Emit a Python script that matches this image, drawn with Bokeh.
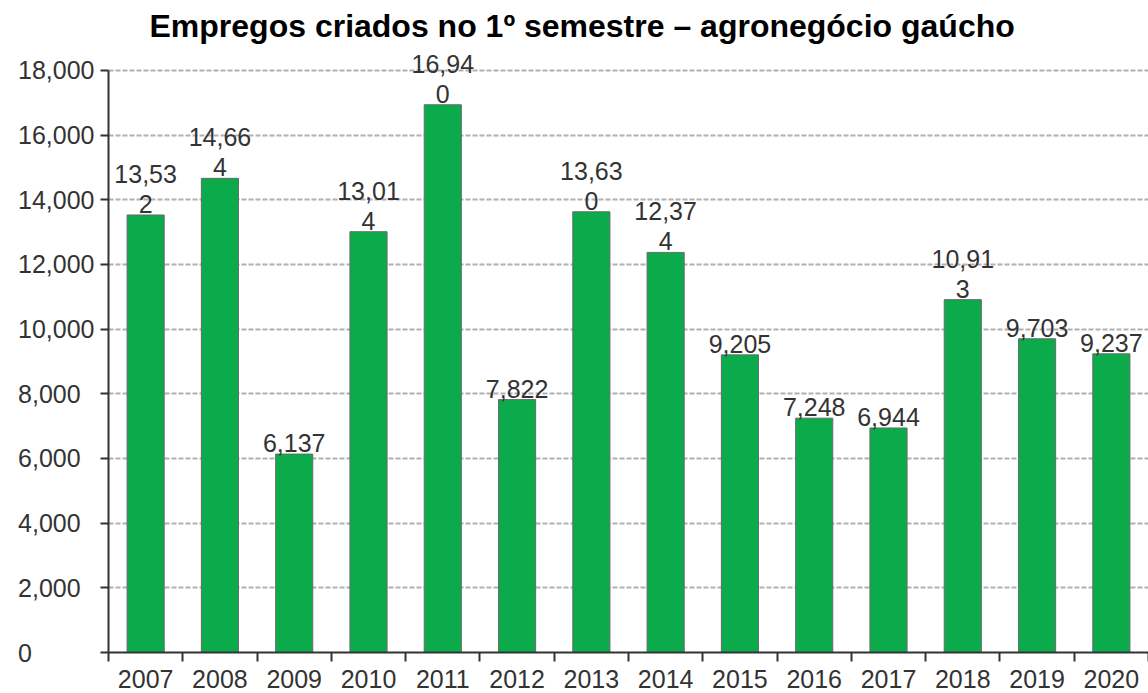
from bokeh.plotting import figure
from bokeh.models import Label, FixedTicker, Range1d
from bokeh.embed import file_html
from bokeh.resources import INLINE

years = ["2007", "2008", "2009", "2010", "2011", "2012", "2013",
         "2014", "2015", "2016", "2017", "2018", "2019", "2020"]
empregos = [13532, 14664, 6137, 13014, 16940, 7822, 13630,
            12374, 9205, 7248, 6944, 10913, 9703, 9237]
y_ticks = [0, 2000, 4000, 6000, 8000, 10000, 12000, 14000, 16000, 18000]

xpos = list(range(1, len(years) + 1))

FONT = "Liberation Sans"

# the range extends a little above 18,000 so the top value label is not clipped;
# the axis line itself is bounded to 0..18,000 as in the original
p = figure(width=1148, height=693, output_backend="svg", toolbar_location=None,
           x_range=Range1d(0.5, len(years) + 0.5), y_range=Range1d(0, 18680),
           min_border_left=108, min_border_right=0, min_border_top=48, min_border_bottom=41)
p.outline_line_color = None
p.background_fill_color = "white"

p.title.text = "Empregos criados no 1º semestre – agronegócio gaúcho"
p.title.text_font = FONT
p.title.text_font_size = "32px"
p.title.text_font_style = "bold"
p.title.text_color = "#000000"
p.title.align = "left"
p.title.offset = 41

p.vbar(x=xpos, top=empregos, width=0.5, fill_color="#0BAA4B",
       line_color="#6b6b6b", line_width=1)

# value labels (wrapped after 5 characters, as in the original)
for x, v in zip(xpos, empregos):
    s = f"{v:,}"
    lines = [s] if len(s) <= 5 else [s[:5], s[5:]]
    for k, line in enumerate(reversed(lines)):
        p.add_layout(Label(x=x, y=v, text=line, text_align="center",
                           text_baseline="bottom", y_offset=2 + 30 * k,
                           text_font=FONT, text_font_size="25px",
                           text_color="#333333"))


# y tick labels are left-aligned in the original: pad with no-break spaces
# (a digit is as wide as two of them, a comma as one)
def _units(s):
    return sum(2 if c.isdigit() else 1 for c in s)


ytxt = [f"{t:,}" for t in y_ticks]
wmax = max(_units(s) for s in ytxt)
y_overrides = {t: s + "\u00a0" * (wmax - _units(s)) for t, s in zip(y_ticks, ytxt)}

# y axis
p.yaxis.ticker = FixedTicker(ticks=y_ticks)
p.yaxis.bounds = (0, 18000)
p.yaxis.major_label_overrides = y_overrides
p.yaxis.major_label_text_font = FONT
p.yaxis.major_label_text_font_size = "25px"
p.yaxis.major_label_text_color = "#333333"
p.yaxis.axis_line_color = "#333333"
p.yaxis.axis_line_width = 2
p.yaxis.major_tick_line_color = "#333333"
p.yaxis.major_tick_line_width = 2
p.yaxis.major_tick_out = 8
p.yaxis.major_tick_in = 0
p.yaxis.minor_tick_line_color = None
p.yaxis.major_label_standoff = 6

# x axis: labels at centres, ticks at category boundaries (minor ticks)
boundaries = [i + 0.5 for i in range(len(years) + 1)]
p.xaxis.ticker = FixedTicker(ticks=xpos, minor_ticks=boundaries)
p.xaxis.major_label_overrides = {i: y for i, y in zip(xpos, years)}
p.xaxis.major_label_text_font = FONT
p.xaxis.major_label_text_font_size = "25px"
p.xaxis.major_label_text_color = "#333333"
p.xaxis.axis_line_color = "#333333"
p.xaxis.axis_line_width = 2
p.xaxis.major_tick_line_color = None
p.xaxis.minor_tick_line_color = "#333333"
p.xaxis.minor_tick_line_width = 2
p.xaxis.minor_tick_out = 9
p.xaxis.minor_tick_in = 0
p.xaxis.major_label_standoff = 8

p.xgrid.grid_line_color = None
p.ygrid.grid_line_color = "#b0b0b0"
p.ygrid.grid_line_width = 2
p.ygrid.grid_line_dash = "5 2"

open("out.html", "w").write(file_html(p, INLINE))
